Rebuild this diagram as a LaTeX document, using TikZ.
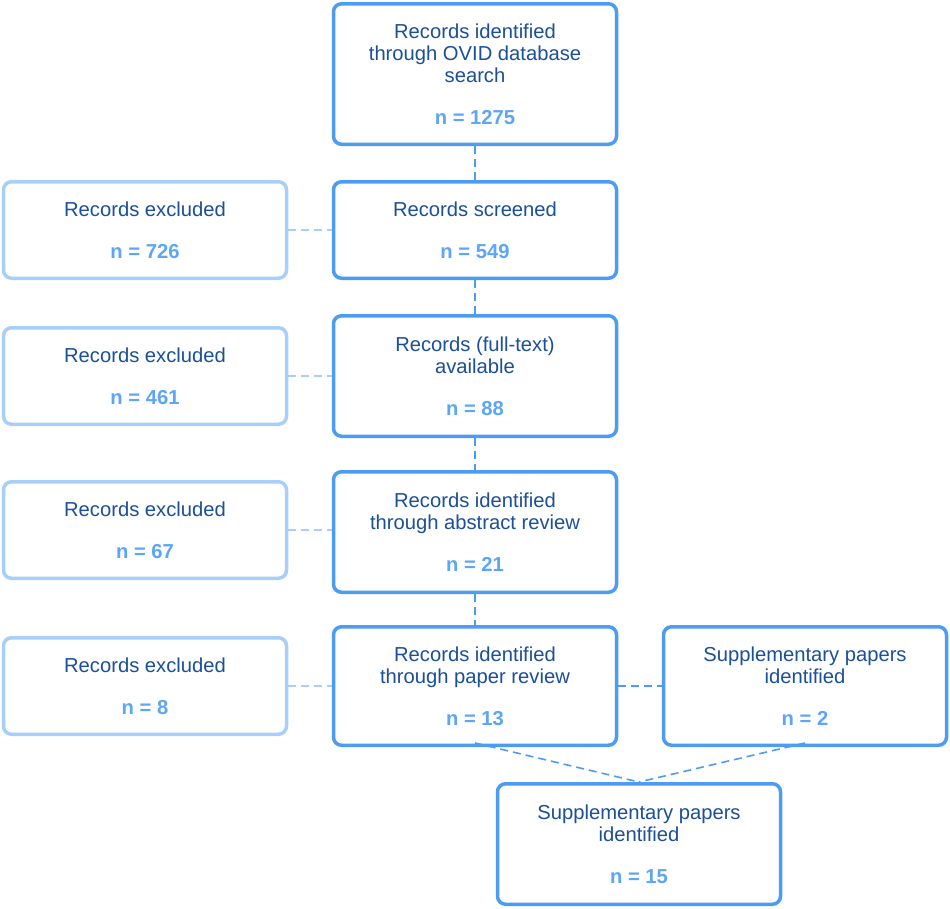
\documentclass[tikz,border=0pt]{standalone}
\usepackage{fontspec}
\setmainfont{Liberation Sans}
\usepackage{tikz}
\definecolor{flowblue1}{HTML}{4D9CF3}
\definecolor{flowblue2}{HTML}{A8CFFA}
\definecolor{flowtext}{HTML}{1B4F9A}
\definecolor{flowcount}{HTML}{5DA5F6}
\newcommand{\cnt}[1]{\\[20pt]\textcolor{flowcount}{\bfseries n = #1}}

\begin{document}
\begin{tikzpicture}[x=1pt,y=-1pt,
		box/.style={draw=flowblue1,line width=3.5pt,rounded corners=8pt,fill=white,
			minimum width=283pt,inner sep=0pt,align=center,text=flowtext,
			font=\fontsize{20.2}{22}\selectfont},
		exbox/.style={box,draw=flowblue2},
		link/.style={flowblue1,line width=1.6pt,dash pattern=on 8pt off 5pt},
		exlink/.style={link,flowblue2}]
			\useasboundingbox (0,0) rectangle (950,908);
			% main column
			\node[box,minimum height=140.5pt] (ovid) at (475,74) {Records identified\\through OVID database\\search\cnt{1275}};
			\node[box,minimum height=96.5pt] (screen) at (475,230) {Records screened\cnt{549}};
			\node[box,minimum height=120.5pt] (full) at (475,376) {Records (full-text)\\available\cnt{88}};
			\node[box,minimum height=120.5pt] (abstr) at (475,532) {Records identified\\through abstract review\cnt{21}};
			\node[box,minimum height=118.5pt] (paper) at (475,686) {Records identified\\through paper review\cnt{13}};
			\node[box,minimum height=118.5pt] (suppa) at (805,686) {Supplementary papers\\identified\cnt{2}};
			\node[box,minimum height=120.5pt] (suppb) at (639,844) {Supplementary papers\\identified\cnt{15}};
			% excluded column
			\node[exbox,minimum height=96.5pt] (exa) at (145,230) {Records excluded\cnt{726}};
			\node[exbox,minimum height=96.5pt] (exb) at (145,376) {Records excluded\cnt{461}};
			\node[exbox,minimum height=96.5pt] (exc) at (145,530) {Records excluded\cnt{67}};
			\node[exbox,minimum height=96.5pt] (exd) at (145,686) {Records excluded\cnt{8}};
			% connectors
			\draw[link] (ovid) -- (screen);
			\draw[link] (screen) -- (full);
			\draw[link] (full) -- (abstr);
			\draw[link] (abstr) -- (paper);
			\draw[link] (paper) -- (suppa);
			\draw[link] ([yshift=4pt]paper.south) -- (suppb.north);
			\draw[link] ([yshift=4pt]suppa.south) -- (suppb.north);
			\draw[exlink] (exa) -- (screen);
			\draw[exlink] (exb) -- (full);
			\draw[exlink] (exc.east) -- (abstr.west |- exc.east);
			\draw[exlink] (exd) -- (paper);
		\end{tikzpicture}
\end{document}
